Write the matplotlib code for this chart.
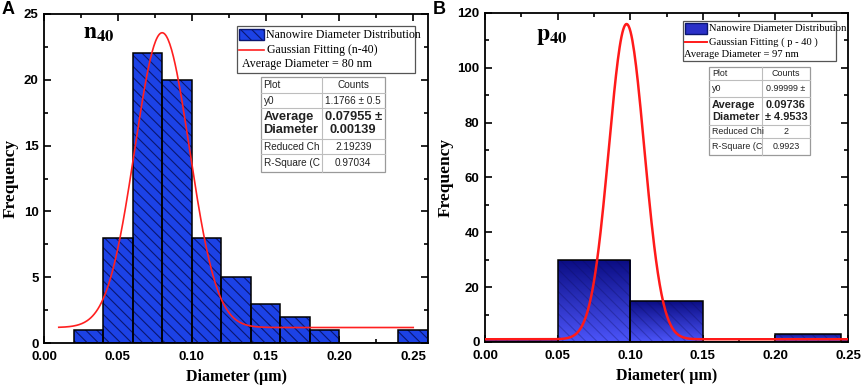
import numpy as np
import matplotlib
matplotlib.use('Agg')
import matplotlib.pyplot as plt
from matplotlib.patches import Rectangle
from matplotlib.colors import LinearSegmentedColormap
from matplotlib.ticker import MultipleLocator, FormatStrFormatter

# ---- data ----
edges_n = [0.02, 0.04, 0.06, 0.08, 0.10, 0.12, 0.14, 0.16, 0.18, 0.20, 0.22, 0.24, 0.26]
counts_n = [1, 8, 22, 20, 8, 5, 3, 2, 1, 0, 0, 1]
fit_n = dict(y0=1.1766, xc=0.0800, w=0.0185, A=22.4, x0=0.01, x1=0.25)

edges_p = [0.00, 0.05, 0.10, 0.15, 0.20, 0.245, 0.25]
counts_p = [1, 30, 15, 0, 3, 1]
fit_p = dict(y0=1.0, xc=0.0975, w=0.0122, A=115.0, x0=0.0, x1=0.25)

table_n = [["Plot", "Counts"],
           ["y0", "1.1766 ± 0.5"],
           ["Average\nDiameter", "0.07955 ±\n0.00139"],
           ["Reduced Ch", "2.19239"],
           ["R-Square (C", "0.97034"]]
table_p = [["Plot", "Counts"],
           ["y0", "0.99999 ±"],
           ["Average\nDiameter", "0.09736\n± 4.9533"],
           ["Reduced Chi", "2"],
           ["R-Square (C", "0.9923"]]

SERIF = 'Liberation Serif'
SANS = 'Liberation Sans'
BLUE = '#1c42e6'
NAVY = '#0a1670'
grad_cmap = LinearSegmentedColormap.from_list('g', ['#4c55fa', '#0a0c82'])

plt.rcParams['mathtext.fontset'] = 'stix'
plt.rcParams['hatch.linewidth'] = 0.8


def gauss(p):
    x = np.linspace(p['x0'], p['x1'], 400)
    return x, p['y0'] + p['A'] * np.exp(-(x - p['xc']) ** 2 / (2 * p['w'] ** 2))


def style_axes(ax, xmax, ymax, ymaj, ymin, ylab_x):
    ax.set_xlim(0, xmax)
    ax.set_ylim(0, ymax)
    ax.xaxis.set_major_locator(MultipleLocator(0.05))
    ax.xaxis.set_minor_locator(MultipleLocator(0.025))
    ax.yaxis.set_major_locator(MultipleLocator(ymaj))
    ax.yaxis.set_minor_locator(MultipleLocator(ymin))
    ax.tick_params(which='both', direction='in', top=True, right=True, width=1.2)
    ax.tick_params(which='major', length=5, labelsize=9.5, pad=4)
    ax.tick_params(axis='x', which='major', pad=6)
    ax.tick_params(which='minor', length=3)
    for lab in ax.get_xticklabels() + ax.get_yticklabels():
        lab.set_fontfamily(SANS)
        lab.set_fontweight('bold')
    for s in ax.spines.values():
        s.set_linewidth(1.3)
    ax.xaxis.set_major_formatter(FormatStrFormatter('%.2f'))
    ax.set_ylabel('Frequency', fontfamily=SERIF, fontweight='bold', fontsize=12.5)
    ax.yaxis.set_label_coords(ylab_x, 0.5)


def px(l, r, b, t, x, y):
    # figure-pixel position -> axes fraction
    return (x - l) / (r - l), (b - y) / (b - t)


def draw_table(ax, rows, box, col_split, row_lines, fs, fs_bold):
    l, r, b, t = box
    tr = ax.transAxes
    ax.add_patch(Rectangle((l, b), r - l, t - b, transform=tr, facecolor='white',
                           edgecolor='#9a9a9a', lw=0.9, zorder=6))
    ax.plot([col_split, col_split], [b, t], transform=tr, color='#bdbdbd', lw=0.8, zorder=7)
    for yl in row_lines:
        ax.plot([l, r], [yl, yl], transform=tr, color='#bdbdbd', lw=0.8, zorder=7)
    ys = [t] + list(row_lines) + [b]
    for i, (c1, c2) in enumerate(rows):
        ymid = (ys[i] + ys[i + 1]) / 2
        bold = '\n' in c1
        size = fs_bold if bold else fs
        w = 'bold' if bold else 'normal'
        ax.text(l + 0.008, ymid, c1, transform=tr, ha='left', va='center', fontsize=size,
                fontweight=w, fontfamily=SANS, color='#222222', zorder=8, linespacing=1.15)
        ax.text((col_split + r) / 2, ymid, c2, transform=tr, ha='center', va='center',
                fontsize=size, fontweight=w, fontfamily=SANS, color='#222222', zorder=8,
                linespacing=1.15)


fig = plt.figure(figsize=(8.65, 3.91), dpi=100)

# ---------------- panel A ----
LA, RA, TA, BA = 44, 428, 14, 343
axA = fig.add_axes([LA / 865, 1 - BA / 391, (RA - LA) / 865, (BA - TA) / 391])
lefts = np.array(edges_n[:-1])
widths = np.diff(edges_n)
axA.bar(lefts, counts_n, width=widths, align='edge', color=BLUE, edgecolor='none', zorder=2)
axA.bar(lefts, counts_n, width=widths, align='edge', fill=False, hatch='\\\\\\',
        edgecolor=NAVY, linewidth=0, zorder=3)
axA.bar(lefts, counts_n, width=widths, align='edge', fill=False, edgecolor='black',
        linewidth=1.1, zorder=4)
gx, gy = gauss(fit_n)
axA.plot(gx, gy, color='#ff2020', lw=1.2, zorder=5)
style_axes(axA, 0.26, 25, 5, 2.5, -0.066)
axA.set_xlabel('Diameter (µm)', fontfamily=SERIF, fontweight='bold', fontsize=11.5, labelpad=4)

f = lambda x, y: px(LA, RA, BA, TA, x, y)
(x0, y1), (x1, y0) = f(237, 26), f(415, 73)
axA.add_patch(Rectangle((x0, y0), x1 - x0, y1 - y0, transform=axA.transAxes, facecolor='white',
                        edgecolor='#555555', lw=0.9, zorder=6))
(sx0, sy1), (sx1, sy0) = f(239, 29), f(264, 40)
axA.add_patch(Rectangle((sx0, sy0), sx1 - sx0, sy1 - sy0, transform=axA.transAxes,
                        facecolor=BLUE, hatch='\\\\\\', edgecolor=NAVY, lw=1, zorder=7))
tx, ty = f(266, 35)
axA.text(tx, ty, 'Nanowire Diameter Distribution', transform=axA.transAxes, fontfamily=SERIF,
         fontsize=8.6, va='center', zorder=8)
(lx0, ly), (lx1, _) = f(239, 50), f(264, 50)
axA.plot([lx0, lx1], [ly, ly], transform=axA.transAxes, color='#ff2020', lw=1.2, zorder=8)
tx, ty = f(267, 50)
axA.text(tx, ty, 'Gaussian Fitting (n-40)', transform=axA.transAxes, fontfamily=SERIF,
         fontsize=8.6, va='center', zorder=8)
tx, ty = f(242, 64)
axA.text(tx, ty, 'Average Diameter = 80 nm', transform=axA.transAxes, fontfamily=SERIF,
         fontsize=8.6, va='center', zorder=8)

(tl, tt), (tr_, tb) = f(260.5, 77), f(385, 172)
cs, _ = f(321.5, 0)
rl = [f(0, yy)[1] for yy in (93, 108, 139, 154)]
draw_table(axA, table_n, (tl, tr_, tb, tt), cs, rl, 7.2, 9.3)

tx, ty = f(83, 32)
axA.text(tx, ty, r'$\mathbf{n_{40}}$', transform=axA.transAxes, fontsize=17, va='center')
fig.text(2 / 865, 1 - 9 / 391, 'A', fontfamily=SANS, fontweight='bold', fontsize=13, va='center')

# ---------------- panel B ----
LB, RB, TB, BB = 485, 848, 13, 342
axB = fig.add_axes([LB / 865, 1 - BB / 391, (RB - LB) / 865, (BB - TB) / 391])
lefts = np.array(edges_p[:-1])
widths = np.diff(edges_p)
grad = np.linspace(0, 1, 256).reshape(-1, 1)
bars = axB.bar(lefts, counts_p, width=widths, align='edge', fill=False, edgecolor='black',
               linewidth=1.1, zorder=4)
for rect, l, w, h in zip(bars, lefts, widths, counts_p):
    if h <= 0:
        continue
    im = axB.imshow(grad, extent=(l, l + w, 0, h), origin='lower', aspect='auto',
                    cmap=grad_cmap, zorder=2)
    im.set_clip_path(rect)
axB.bar(lefts, counts_p, width=widths, align='edge', fill=False, hatch='\\\\\\',
        edgecolor=(0.05, 0.05, 0.35, 0.3), linewidth=0, zorder=3)
gx, gy = gauss(fit_p)
axB.plot(gx, gy, color='#ff1a1a', lw=1.8, zorder=5)
style_axes(axB, 0.25, 120, 20, 10, -0.086)
axB.set_xlabel('Diameter( µm)', fontfamily=SERIF, fontweight='bold', fontsize=11.5, labelpad=4)

g = lambda x, y: px(LB, RB, BB, TB, x, y)
(x0, y1), (x1, y0) = g(683, 21.5), g(836, 61)
axB.add_patch(Rectangle((x0, y0), x1 - x0, y1 - y0, transform=axB.transAxes, facecolor='white',
                        edgecolor='#555555', lw=0.9, zorder=6))
(sx0, sy1), (sx1, sy0) = g(685, 23), g(707, 34)
axB.add_patch(Rectangle((sx0, sy0), sx1 - sx0, sy1 - sy0, transform=axB.transAxes,
                        facecolor='#2a30c8', edgecolor=NAVY, lw=1, zorder=7))
tx, ty = g(709, 28.5)
axB.text(tx, ty, 'Nanowire Diameter Distribution', transform=axB.transAxes, fontfamily=SERIF,
         fontsize=7.6, va='center', zorder=8)
(lx0, ly), (lx1, _) = g(685, 42), g(707, 42)
axB.plot([lx0, lx1], [ly, ly], transform=axB.transAxes, color='#ff1a1a', lw=1.4, zorder=8)
tx, ty = g(709, 42)
axB.text(tx, ty, 'Gaussian Fitting ( p - 40 )', transform=axB.transAxes, fontfamily=SERIF,
         fontsize=7.6, va='center', zorder=8)
tx, ty = g(684, 55)
axB.text(tx, ty, 'Average Diameter = 97 nm', transform=axB.transAxes, fontfamily=SERIF,
         fontsize=7.6, va='center', zorder=8)

(tl, tt), (tr_, tb) = g(709, 67.5), g(810, 155)
cs, _ = g(762, 0)
rl = [g(0, yy)[1] for yy in (80.5, 97, 125, 138.5)]
draw_table(axB, table_p, (tl, tr_, tb, tt), cs, rl, 6.4, 7.9)

tx, ty = g(536, 35)
axB.text(tx, ty, r'$\mathbf{p_{40}}$', transform=axB.transAxes, fontsize=17, va='center')
fig.text(433 / 865, 1 - 9 / 391, 'B', fontfamily=SANS, fontweight='bold', fontsize=13, va='center')

fig.savefig('out.png', dpi=100)
